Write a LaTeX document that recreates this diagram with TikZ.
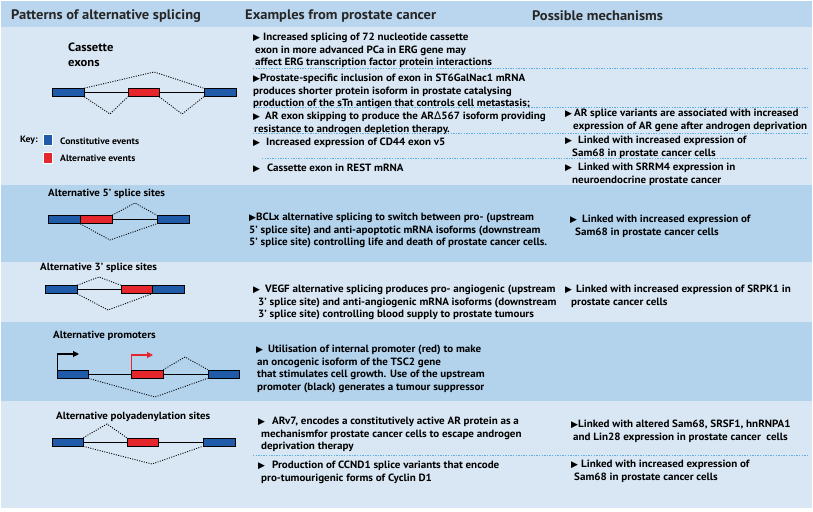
\documentclass[tikz,border=0pt]{standalone}
\usepackage{fontspec}
\IfFontExistsTF{PT Sans Bold}
  {\setmainfont{PT Sans}[BoldFont={PT Sans Bold}, FakeStretch=1.05]}
  {\setmainfont{PT Sans}[AutoFakeBold=2.5, FakeStretch=1.05]}
\newfontfamily\symfont{DejaVu Sans}
\usetikzlibrary{arrows.meta}
\definecolor{hdrbg}{HTML}{BAD6EE}
\definecolor{darkbg}{HTML}{B3D3ED}
\definecolor{lightbg}{HTML}{D9E7F4}
\definecolor{dotblue}{HTML}{5FAEE3}
\definecolor{exblue}{HTML}{1F5BA8}
\definecolor{exred}{HTML}{E5262C}
\newcommand{\tri}{{\symfont\fontsize{9}{9}\selectfont ▶}}
\newcommand{\dlt}{{\symfont\mdseries Δ}}
\newcommand{\ind}[1]{\hspace*{#1pt}}
\begin{document}
\begin{tikzpicture}[x=1pt,y=-1pt,
  hdr/.style={font=\fontsize{13.8}{15}\selectfont\bfseries, text=black!85, anchor=west, inner sep=0},
  body/.style={font=\fontsize{10.5}{12.5}\selectfont\bfseries, align=left, anchor=north west, inner sep=0},
  lbl/.style={font=\fontsize{10.4}{12}\selectfont\bfseries, anchor=west, inner sep=0},
  keytxt/.style={font=\fontsize{9.2}{11}\selectfont\bfseries, anchor=west, inner sep=0},
  exon/.style={draw=black, line width=0.7pt, minimum height=8pt, inner sep=0},
  cexon/.style={exon, fill=exblue},
  aexon/.style={exon, fill=exred},
  intron/.style={line width=0.7pt},
  splice/.style={line width=0.9pt, dash pattern=on 1pt off 1.4pt},
  sep/.style={dotblue, line width=1pt, dash pattern=on 1.3pt off 1.3pt},
  prom/.style={line width=1.1pt, -{Triangle[length=6pt,width=6pt]}},
]
\useasboundingbox (0,0) rectangle (813,511);
% backgrounds
\fill[white] (0,0) rectangle (813,511);
\fill[hdrbg] (1,1) rectangle (812,27);
\fill[lightbg] (1,27) rectangle (812,185);
\fill[darkbg] (1,185) rectangle (812,262);
\fill[lightbg] (1,262) rectangle (812,322);
\fill[darkbg] (1,322) rectangle (812,401);
\fill[lightbg] (1,401) rectangle (812,508);

% headers
\node[hdr] (h1) at (11,16) {Patterns of alternative splicing};
\node[hdr] (h2) at (245,16) {Examples from prostate cancer};
\node[hdr] (h3) at (532,16) {Possible mechanisms};

% ---------- row 1: cassette exons
\node[font=\fontsize{12}{15}\selectfont\bfseries, align=left, anchor=north west, inner sep=0] (l1) at (68,43) {Cassette\\exons};
\node[cexon, minimum width=32pt] (c1a) at (68,92.5) {};
\node[aexon, minimum width=31pt] (c1b) at (143.5,92.5) {};
\node[cexon, minimum width=32pt] (c1c) at (220,92.5) {};
\draw[intron] (c1a.east) -- (c1b.west) (c1b.east) -- (c1c.west);
\coordinate (c1t) at (154,72);
\coordinate (c1l) at (110,114);
\coordinate (c1r) at (182,114);
\draw[splice] (c1a.north east) -- (c1t) -- (c1c.north west);
\draw[splice] (c1a.south east) -- (c1l) -- (c1b.south west);
\draw[splice] (c1b.south east) -- (c1r) -- (c1c.south west);

% key
\node[keytxt] (k0) at (20,140) {Key:};
\node[cexon, minimum width=9.5pt, minimum height=11pt, draw=white, line width=0.6pt] (k1) at (48,140) {};
\node[aexon, minimum width=9.5pt, minimum height=11pt, draw=white, line width=0.6pt] (k2) at (48,158) {};
\node[keytxt] (k1t) at (60,141) {Constitutive events};
\node[keytxt] (k2t) at (60,158) {Alternative events};

% row 1 texts
\node[body] (e1) at (253,33) {\tri\hspace{3pt}Increased splicing of 72 nucleotide cassette\\\ind{2}exon in more advanced PCa in ERG gene may\\\ind{2}affect ERG transcription factor protein interactions};
\node[body] (e2) at (253,74) {\tri Prostate-specific inclusion of exon in ST6GalNac1 mRNA\\produces shorter protein isoform in prostate catalysing\\production of the sTn antigen that controls cell metastasis;};
\node[body] (e3) at (253,112) {\tri\hspace{5pt}AR exon skipping to produce the AR\dlt567 isoform providing\\\ind{1}resistance to androgen depletion therapy.};
\node[body] (e4) at (253,138) {\tri\hspace{6pt}Increased expression of CD44 exon v5};
\node[body] (e5) at (253,164) {\tri\hspace{7pt}Cassette exon in REST mRNA};
\node[body] (m1) at (565,109) {\tri\hspace{2pt}AR splice variants are associated with increased\\\ind{8}expression of AR gene after androgen deprivation};
\node[body] (m2) at (565,136) {\tri\hspace{6pt}Linked with increased expression of\\\ind{7}Sam68 in prostate cancer cells};
\node[body] (m3) at (565,163) {\tri\hspace{6pt}Linked with SRRM4 expression in\\\ind{7}neuroendocrine prostate cancer};
\coordinate (s1a) at (253,68);  \coordinate (s1b) at (808,68);
\coordinate (s2a) at (253,107); \coordinate (s2b) at (808,107);
\coordinate (s3a) at (253,133); \coordinate (s3b) at (808,133);
\coordinate (s4a) at (262,158); \coordinate (s4b) at (808,158);
\draw[sep] (s1a) -- (s1b);
\draw[sep] (s2a) -- (s2b);
\draw[sep] (s3a) -- (s3b);
\draw[sep] (s4a) -- (s4b);

% ---------- row 2: alternative 5' splice sites
\node[lbl] (l2) at (48,194) {Alternative 5’ splice sites};
\node[cexon, minimum width=32pt] (r2a) at (64,219.5) {};
\node[aexon, minimum width=32pt] (r2b) at (96,219.5) {};
\node[cexon, minimum width=32pt] (r2c) at (173,219.5) {};
\draw[intron] (r2b.east) -- (r2c.west);
\coordinate (r2t) at (135,203);
\coordinate (r2l) at (110,240);
\draw[splice] (r2b.north east) -- (r2t) -- (r2c.north west);
\draw[splice] (r2a.south east) -- (r2l) -- (r2c.south west);
\node[body] (e6) at (249,213) {\tri BCLx alternative splicing to switch between pro- (upstream\\5’ splice site) and anti-apoptotic mRNA isoforms (downstream\\5’ splice site) controlling life and death of prostate cancer cells.};
\node[body] (m4) at (570,215) {\tri\hspace{5pt}Linked with increased expression of\\\ind{5}Sam68 in prostate cancer cells};

% ---------- row 3: alternative 3' splice sites
\node[lbl] (l3) at (40,268) {Alternative 3’ splice sites};
\node[cexon, minimum width=32pt] (r3a) at (61,289.5) {};
\node[aexon, minimum width=31pt] (r3b) at (136.5,289.5) {};
\node[cexon, minimum width=32pt] (r3c) at (168,289.5) {};
\draw[intron] (r3a.east) -- (r3b.west);
\coordinate (r3t) at (99,277);
\coordinate (r3l) at (108,310);
\draw[splice] (r3a.north east) -- (r3t) -- (r3b.north west);
\draw[splice] (r3a.south east) -- (r3l) -- (r3c.south west);
\node[body] (e7) at (253,285) {\tri\hspace{5pt}VEGF alternative splicing produces pro- angiogenic (upstream\\\ind{5}3’ splice site) and anti-angiogenic mRNA isoforms (downstream\\\ind{5}3’ splice site) controlling blood supply to prostate tumours};
\node[body] (m5) at (565,285) {\tri\hspace{4pt}Linked with increased expression of SRPK1 in\\\ind{6}prostate cancer cells};

% ---------- row 4: alternative promoters
\node[lbl] (l4) at (53,336) {Alternative promoters};
\node[cexon, minimum width=31pt] (r4a) at (72.5,374) {};
\node[aexon, minimum width=32pt] (r4b) at (147,374) {};
\node[cexon, minimum width=31pt] (r4c) at (223.5,374) {};
\draw[intron] (r4a.east) -- (r4b.west) (r4b.east) -- (r4c.west);
\coordinate (p1) at (79,354);
\coordinate (p2) at (153,355);
\draw[prom] ([xshift=1pt]r4a.north west) |- (p1);
\draw[prom, exred] ([xshift=1pt]r4b.north west) |- (p2);
\coordinate (r4t) at (185,357);
\coordinate (r4l) at (155,397);
\draw[splice] (r4b.north east) -- (r4t) -- (r4c.north west);
\draw[splice] (r4a.south east) -- (r4l) -- (r4c.south west);
\node[body] (e8) at (256,345) {\tri\hspace{5pt}Utilisation of internal promoter (red) to make\\\ind{1}an oncogenic isoform of the TSC2 gene\\\ind{1}that stimulates cell growth. Use of the upstream\\\ind{1}promoter (black) generates a tumour suppressor};

% ---------- row 5: alternative polyadenylation sites
\node[lbl] (l5) at (56,417) {Alternative polyadenylation sites};
\node[cexon, minimum width=31pt] (r5a) at (67.5,442) {};
\node[aexon, minimum width=31pt] (r5b) at (142.5,442) {};
\node[cexon, minimum width=32pt] (r5c) at (219,442) {};
\draw[intron] (r5a.east) -- (r5b.west) (r5b.east) -- (r5c.west);
\coordinate (r5t) at (107,424);
\coordinate (r5l) at (152,464);
\draw[splice] (r5a.north east) -- (r5t) -- (r5b.north west);
\draw[splice] (r5a.south east) -- (r5l) -- (r5c.south west);
\node[body] (e9) at (258,417) {\tri\hspace{7pt}ARv7, encodes a constitutively active AR protein as a\\\ind{3}mechanismfor prostate cancer cells to escape androgen\\\ind{3}deprivation therapy};
\node[body] (e10) at (258,461) {\tri\hspace{7pt}Production of CCND1 splice variants that encode\\\ind{3}pro-tumourigenic forms of Cyclin D1};
\node[body] (m6) at (571,420) {\tri Linked with altered Sam68, SRSF1, hnRNPA1\\\ind{2}and Lin28 expression in prostate cancer\ \ cells};
\node[body] (m7) at (571,460) {\tri\hspace{3pt}Linked with increased expression of\\\ind{3}Sam68 in prostate cancer cells};
\coordinate (s5a) at (253,455); \coordinate (s5b) at (808,455);
\draw[sep] (s5a) -- (s5b);
\end{tikzpicture}
\end{document}
